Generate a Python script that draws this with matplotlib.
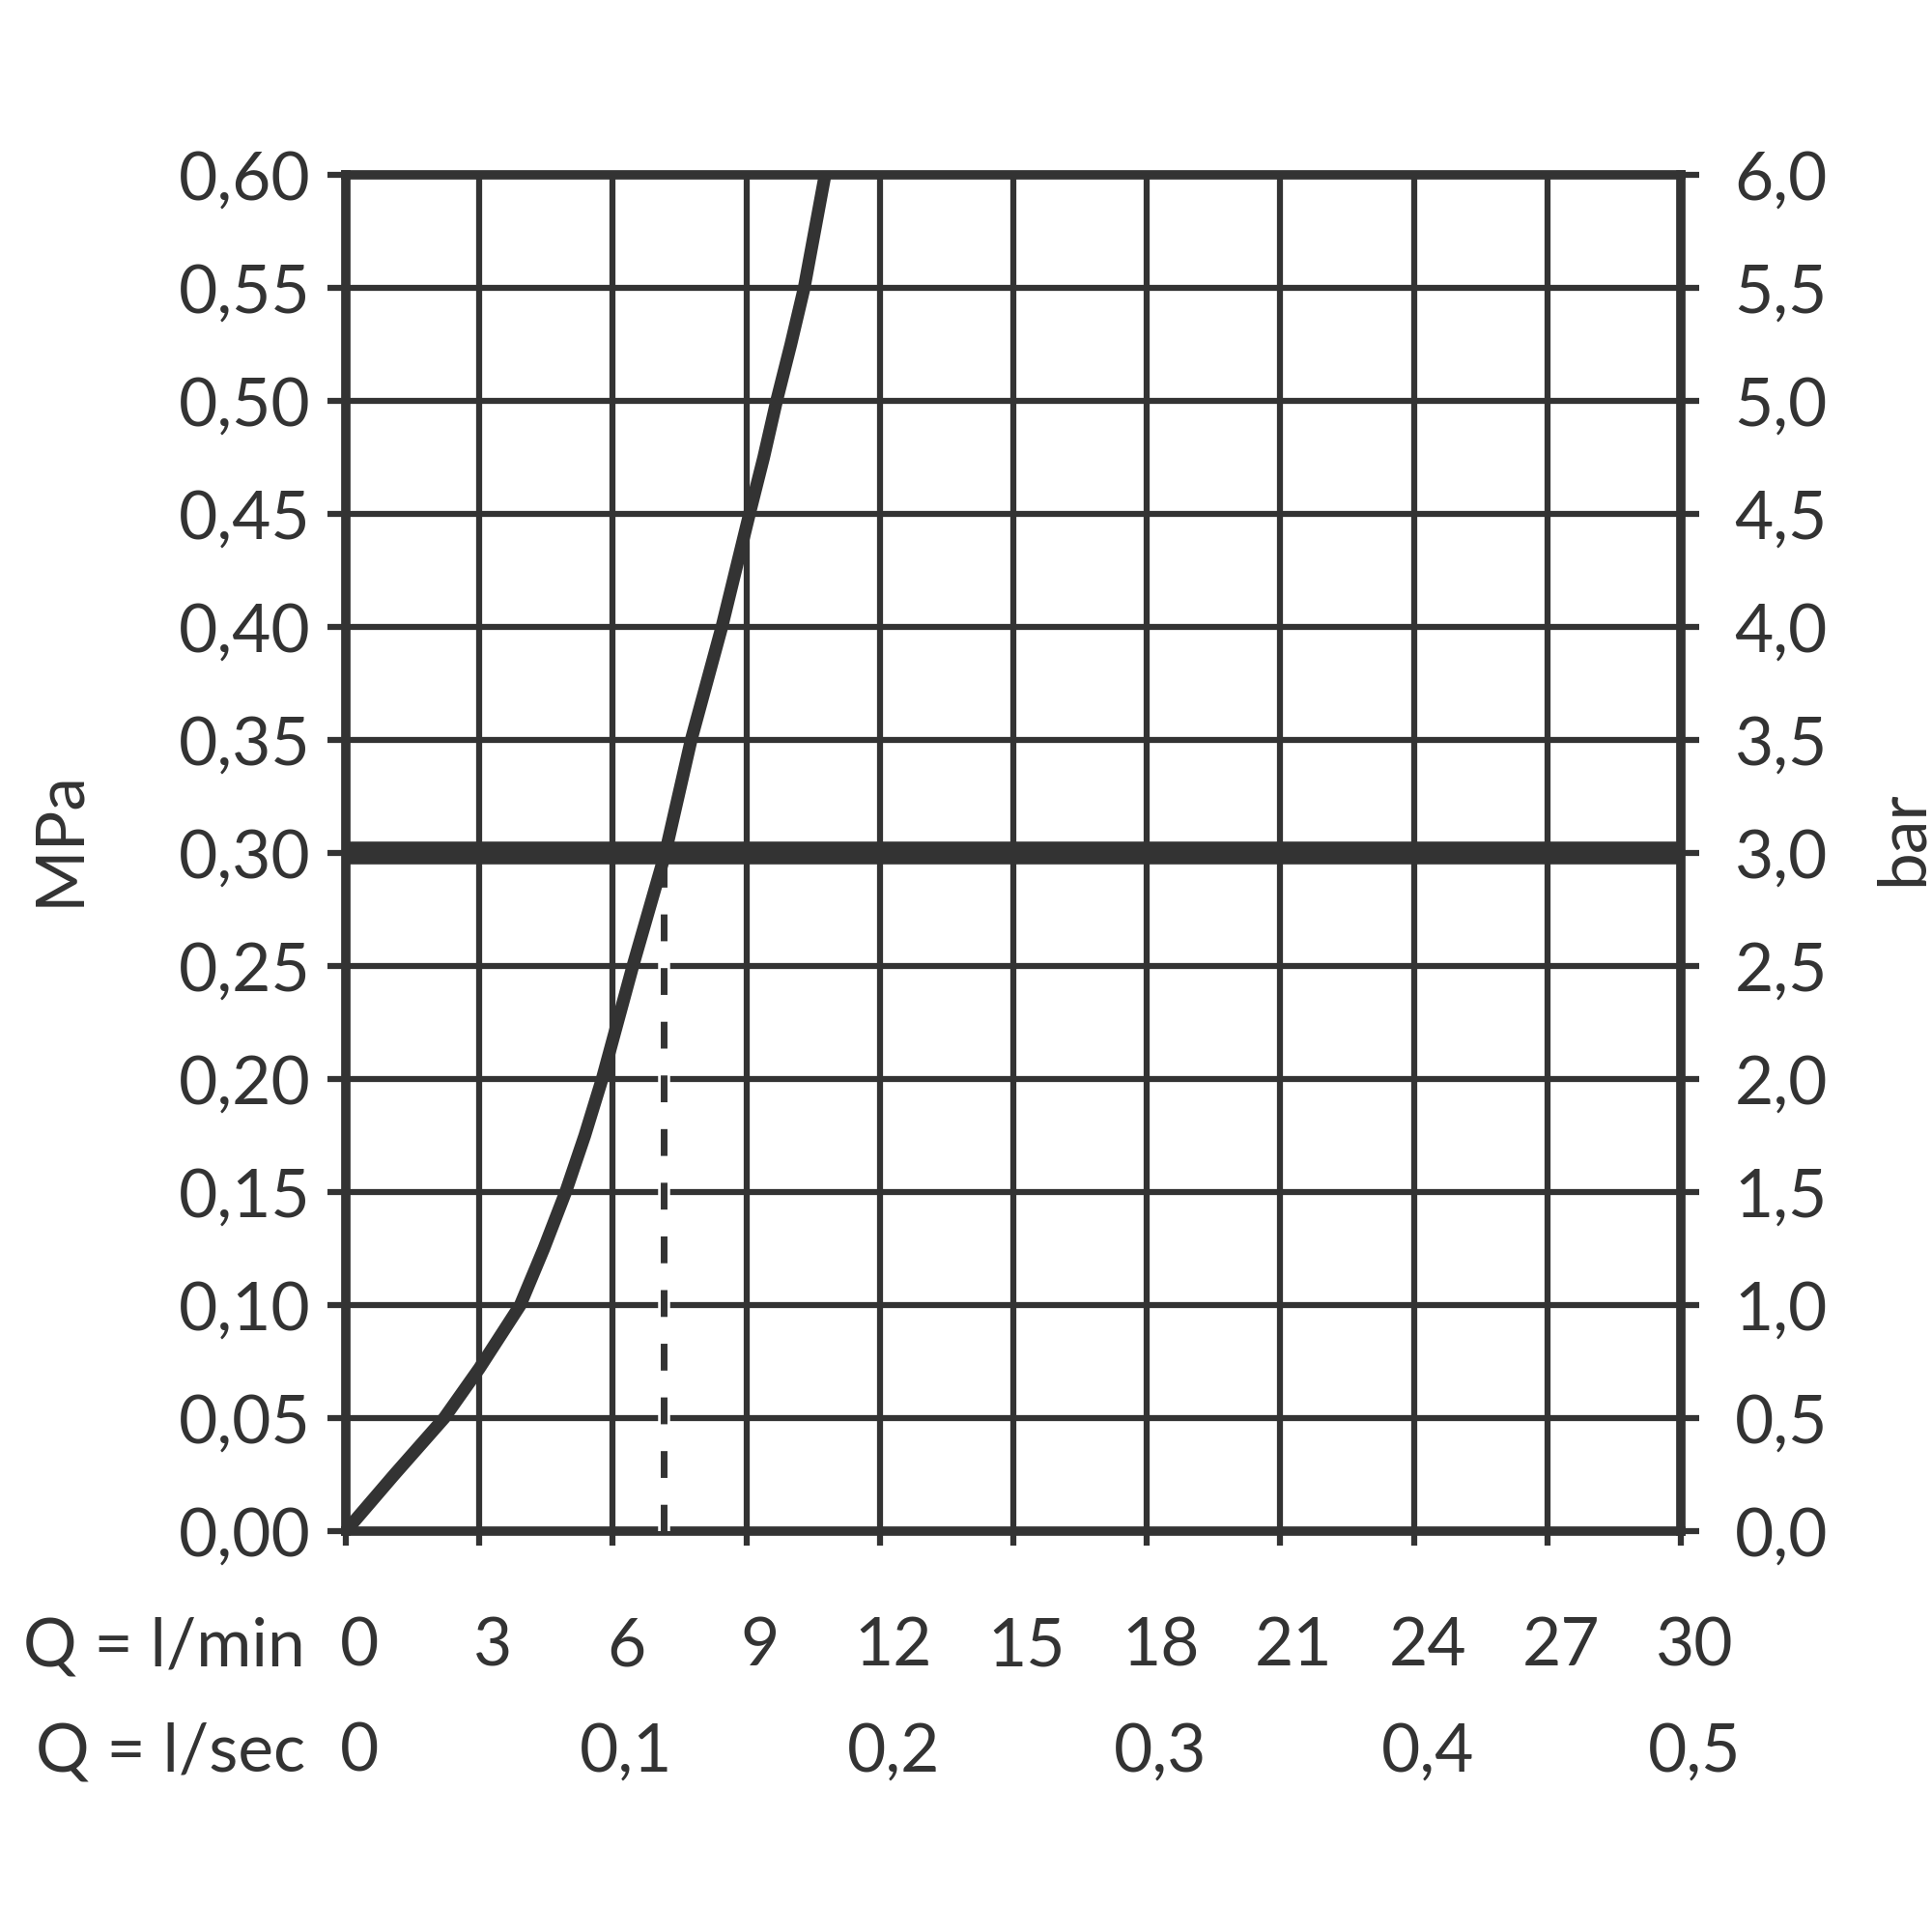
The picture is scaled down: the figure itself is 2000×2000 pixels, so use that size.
import numpy as np
import matplotlib
matplotlib.use('Agg')
import matplotlib.pyplot as plt
import matplotlib.transforms as mtransforms

# flow (l/min) vs pressure (MPa)
flow_lmin = [0, 1.09, 2.21, 3.0, 3.92, 4.45, 4.94, 5.37, 5.76, 6.45,
             7.18, 7.76, 8.45, 9.07, 9.39, 9.68, 10.0, 10.30, 10.77]
pressure_mpa = [0, 0.025, 0.05, 0.072, 0.10, 0.125, 0.15, 0.175, 0.20, 0.25,
                0.30, 0.35, 0.40, 0.45, 0.475, 0.50, 0.525, 0.55, 0.60]

ref_pressure = 0.30
ref_flow = 7.15

mpa_ticks = [0.00, 0.05, 0.10, 0.15, 0.20, 0.25, 0.30, 0.35, 0.40, 0.45, 0.50, 0.55, 0.60]
mpa_labels = ['0,00', '0,05', '0,10', '0,15', '0,20', '0,25', '0,30',
              '0,35', '0,40', '0,45', '0,50', '0,55', '0,60']
bar_labels = ['0,0', '0,5', '1,0', '1,5', '2,0', '2,5', '3,0',
              '3,5', '4,0', '4,5', '5,0', '5,5', '6,0']
lmin_ticks = [0, 3, 6, 9, 12, 15, 18, 21, 24, 27, 30]
lsec_ticks = [0, 6, 12, 18, 24, 30]
lsec_labels = ['0', '0,1', '0,2', '0,3', '0,4', '0,5']

col = '#333333'
fs = 50
plt.rcParams['font.family'] = ['Lato', 'DejaVu Sans']

fig = plt.figure(figsize=(20, 20), dpi=100)
ax = fig.add_axes([0.179, 0.2075, 0.691, 0.702])
ax.set_xlim(0, 30)
ax.set_ylim(0, 0.6)

ax.grid(True, color=col, linewidth=4.5)
ax.set_axisbelow(True)
for s in ax.spines.values():
    s.set_color(col)
    s.set_linewidth(7)

ax.set_yticks(mpa_ticks)
ax.set_yticklabels(mpa_labels)
ax.set_xticks(lmin_ticks)
ax.set_xticklabels([])
ax.tick_params(axis='y', which='both', left=True, right=True, labelleft=True,
               direction='out', length=14, width=4.5, color=col,
               labelsize=fs, labelcolor=col, pad=12)
ax.tick_params(axis='x', direction='out', length=11, width=4.5, color=col)

ax2 = ax.twinx()
ax2.set_ylim(0, 6)
ax2.set_yticks([v * 10 for v in mpa_ticks])
ax2.set_yticklabels(bar_labels)
ax2.tick_params(axis='y', direction='out', length=14, width=4.5, color=col,
                labelsize=fs, labelcolor=col, pad=26)
for s in ax2.spines.values():
    s.set_visible(False)

# thick reference line and dashed drop line (with white halo over the grid)
ax.axhline(ref_pressure, color=col, linewidth=17, zorder=3)
ax.plot([ref_flow, ref_flow], [0, ref_pressure], color='white', linewidth=9, zorder=2.6)
ax.plot([ref_flow, ref_flow], [0, ref_pressure], color=col, linewidth=5,
        linestyle=(0, (4, 4)), zorder=2.7)
ax.plot(flow_lmin, pressure_mpa, color=col, linewidth=9.5,
        solid_joinstyle='round', solid_capstyle='butt', zorder=4, clip_on=False)

# bottom rows
shift = mtransforms.ScaledTranslation(14 / 100, 0, fig.dpi_scale_trans)
trans = mtransforms.blended_transform_factory(ax.transData, fig.transFigure) + shift
for q in lmin_ticks:
    ax.text(q, 0.1475, str(q), transform=trans, ha='center', va='center',
            fontsize=fs, color=col)
for q, lab in zip(lsec_ticks, lsec_labels):
    ax.text(q, 0.093, lab, transform=trans, ha='center', va='center',
            fontsize=fs, color=col)
fig.text(0.158, 0.1475, 'Q = l/min', ha='right', va='center', fontsize=fs, color=col)
fig.text(0.158, 0.093, 'Q = l/sec', ha='right', va='center', fontsize=fs, color=col)

fig.text(0.031, 0.566, 'MPa', rotation=90, ha='center', va='center', fontsize=fs, color=col)
fig.text(0.985, 0.566, 'bar', rotation=90, ha='center', va='center', fontsize=fs, color=col)

fig.savefig('out.png', dpi=100, facecolor='white')
